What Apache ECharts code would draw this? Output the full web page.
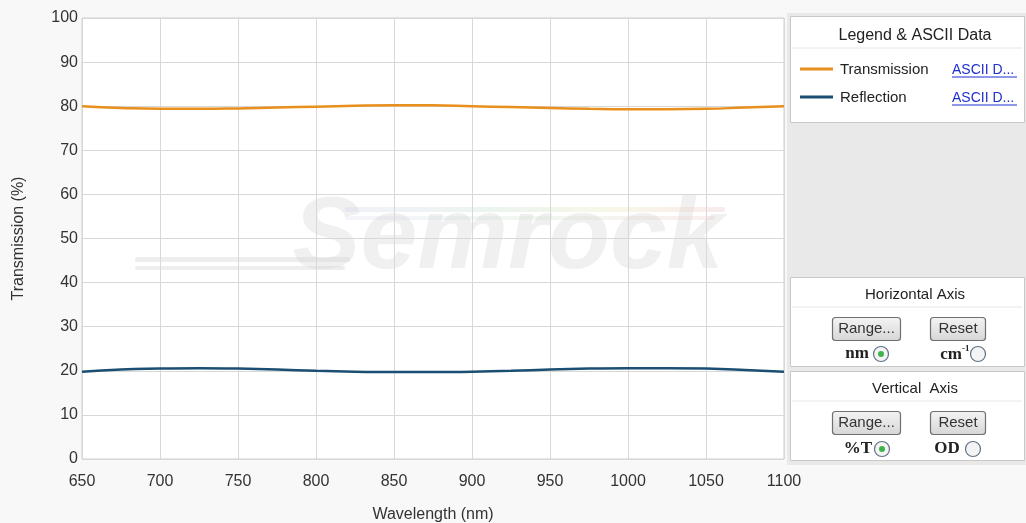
<!DOCTYPE html>
<html><head><meta charset="utf-8">
<script src="https://cdn.jsdelivr.net/npm/echarts@6/dist/echarts.min.js"></script>
<style>html,body{margin:0;padding:0;background:#f8f8f8}#c{width:1026px;height:523px}</style>
</head><body><div id="c"></div>
<script>
var wavelengths = [650,675,700,725,750,775,800,825,850,875,900,925,950,975,1000,1025,1050,1075,1100];
var transmission = [80.0,79.6,79.4,79.4,79.5,79.7,79.9,80.1,80.2,80.2,80.0,79.8,79.6,79.4,79.3,79.3,79.4,79.7,80.0];
var reflection = [19.8,20.3,20.5,20.6,20.5,20.3,20.0,19.8,19.7,19.7,19.8,20.0,20.3,20.5,20.6,20.6,20.5,20.2,19.8];
var xTicks = [650,700,750,800,850,900,950,1000,1050,1100];
var yTicks = [0,10,20,30,40,50,60,70,80,90,100];

var font = '"Liberation Sans", Arial, sans-serif';
function pairs(ys){ return wavelengths.map(function(w,i){return [w,ys[i]];}); }

function box(x,y,w,h){ return {type:'rect',shape:{x:x,y:y,width:w,height:h},style:{fill:'#fff',stroke:'#c8c8c8',lineWidth:1},z:1}; }
function txt(x,y,t,opt){ opt=opt||{}; return {type:'text',x:x,y:y,z:5,style:{text:t,fill:opt.color||'#222',font:opt.font||('15px '+font),textAlign:opt.align||'left',textVerticalAlign:'middle'}}; }
function hline(x1,x2,y,c,w){ return {type:'line',shape:{x1:x1,y1:y,x2:x2,y2:y},style:{stroke:c,lineWidth:w||1},z:3}; }
function button(x,y,w,h,t){ return [
  {type:'rect',shape:{x:x,y:y,width:w,height:h,r:3},style:{fill:{type:'linear',x:0,y:0,x2:0,y2:1,colorStops:[{offset:0,color:'#f4f4f4'},{offset:1,color:'#d6d6d6'}]},stroke:'#6f6f6f',lineWidth:1.2},z:3},
  txt(x+w/2,y+h/2,t,{align:'center',font:'15px '+font,color:'#333'})
]; }
function radio(cx,cy,on){ var a=[{type:'circle',shape:{cx:cx,cy:cy,r:7.5},style:{fill:'#f4f4f4',stroke:'#5f7185',lineWidth:1.2},z:3}];
  if(on) a.push({type:'circle',shape:{cx:cx,cy:cy,r:3},style:{fill:'#3cb44b'},z:4}); return a; }

var g = [];
// watermark
g.push({type:'text',x:508,y:240,z:0,style:{text:'Semrock',fill:'rgba(200,200,200,0.28)',font:'italic bold 102px "Liberation Sans", Arial, sans-serif',textAlign:'center',textVerticalAlign:'middle'}});
g.push({type:'rect',shape:{x:135,y:257,width:215,height:5,r:2},style:{fill:'rgba(205,205,205,0.35)'},z:0});
g.push({type:'rect',shape:{x:135,y:266,width:210,height:4,r:2},style:{fill:'rgba(205,205,205,0.35)'},z:0});
g.push({type:'rect',shape:{x:345,y:207,width:380,height:5,r:2},style:{fill:{type:'linear',x:0,y:0,x2:1,y2:0,colorStops:[{offset:0,color:'rgba(200,200,230,0.25)'},{offset:0.4,color:'rgba(190,220,200,0.3)'},{offset:0.7,color:'rgba(230,230,180,0.3)'},{offset:1,color:'rgba(235,190,190,0.3)'}]}},z:0});
g.push({type:'rect',shape:{x:345,y:216,width:370,height:4,r:2},style:{fill:{type:'linear',x:0,y:0,x2:1,y2:0,colorStops:[{offset:0,color:'rgba(200,200,230,0.2)'},{offset:0.5,color:'rgba(200,225,200,0.25)'},{offset:1,color:'rgba(235,190,190,0.25)'}]}},z:0});
// right column
g.push({type:'rect',shape:{x:787,y:13,width:239,height:452},style:{fill:'#e9e9e9'},z:0});
g.push(box(790.5,16.5,234,106));
g.push(txt(915,36,'Legend & ASCII Data',{align:'center',font:'16px '+font}));
g.push(hline(792,1022,48,'#e6e6e6'));
g.push(hline(800,833,69,'#e8901e',3));
g.push(txt(840,70,'Transmission'));
g.push(txt(952,70,'ASCII D...',{color:'#1f2fd0',font:'14px '+font}));
g.push(hline(952,1017,77,'#1f2fd0',1));
g.push(hline(800,833,97,'#1a4e72',3));
g.push(txt(840,98,'Reflection'));
g.push(txt(952,98,'ASCII D...',{color:'#1f2fd0',font:'14px '+font}));
g.push(hline(952,1017,105,'#1f2fd0',1));

g.push(box(790.5,277.5,234,89));
g.push(txt(915,295,'Horizontal Axis',{align:'center'}));
g.push(hline(792,1022,307,'#e6e6e6'));
g = g.concat(button(832.5,317.5,68,23,'Range...'));
g = g.concat(button(930.5,317.5,55,23,'Reset'));
g.push(txt(857,354,'nm',{align:'center',font:'bold 17px "Liberation Serif", serif'}));
g = g.concat(radio(881,354,true));
g.push(txt(951,355,'cm',{align:'center',font:'bold 17px "Liberation Serif", serif'}));
g.push(txt(962,349,'-1',{align:'left',font:'bold 9px "Liberation Serif", serif'}));
g = g.concat(radio(978,354,false));

g.push(box(790.5,371.5,234,89));
g.push(txt(915,389,'Vertical  Axis',{align:'center'}));
g.push(hline(792,1022,401,'#e6e6e6'));
g = g.concat(button(832.5,411.5,68,23,'Range...'));
g = g.concat(button(930.5,411.5,55,23,'Reset'));
g.push(txt(858,449,'%T',{align:'center',font:'bold 17px "Liberation Serif", serif'}));
g = g.concat(radio(882,449,true));
g.push(txt(947,449,'OD',{align:'center',font:'bold 17px "Liberation Serif", serif'}));
g = g.concat(radio(973,449,false));

var chart = echarts.init(document.getElementById('c'));
chart.setOption({
  backgroundColor:'#f8f8f8',
  animation:false,
  grid:{left:82,right:242,top:18,bottom:64,containLabel:false,outerBoundsMode:'none',show:true,backgroundColor:'#fff',borderColor:'#cfcfcf',borderWidth:1,z:0},
  xAxis:{type:'value',min:650,max:1100,interval:50,
    name:'Wavelength (nm)',nameLocation:'middle',nameGap:48,
    nameTextStyle:{fontSize:16,color:'#333',fontFamily:font},
    axisLine:{show:false},axisTick:{show:false},
    axisLabel:{fontSize:16,color:'#333',fontFamily:font,margin:15,formatter:function(v){return String(v);}},
    splitLine:{lineStyle:{color:'#d8d8d8',width:1}}},
  yAxis:{type:'value',min:0,max:100,interval:10,
    name:'Transmission (%)',nameLocation:'middle',nameGap:55,nameRotate:90,
    nameTextStyle:{fontSize:16,color:'#333',fontFamily:font},
    axisLine:{show:false},axisTick:{show:false},
    axisLabel:{fontSize:16,color:'#333',fontFamily:font,margin:4},
    splitLine:{lineStyle:{color:'#d8d8d8',width:1}}},
  series:[
    {name:'Transmission',type:'line',data:pairs(transmission),smooth:true,showSymbol:false,lineStyle:{color:'#e8901e',width:2.5},z:3},
    {name:'Reflection',type:'line',data:pairs(reflection),smooth:true,showSymbol:false,lineStyle:{color:'#1a4e72',width:2.5},z:3}
  ],
  graphic:{elements:g}
});
</script></body></html>
